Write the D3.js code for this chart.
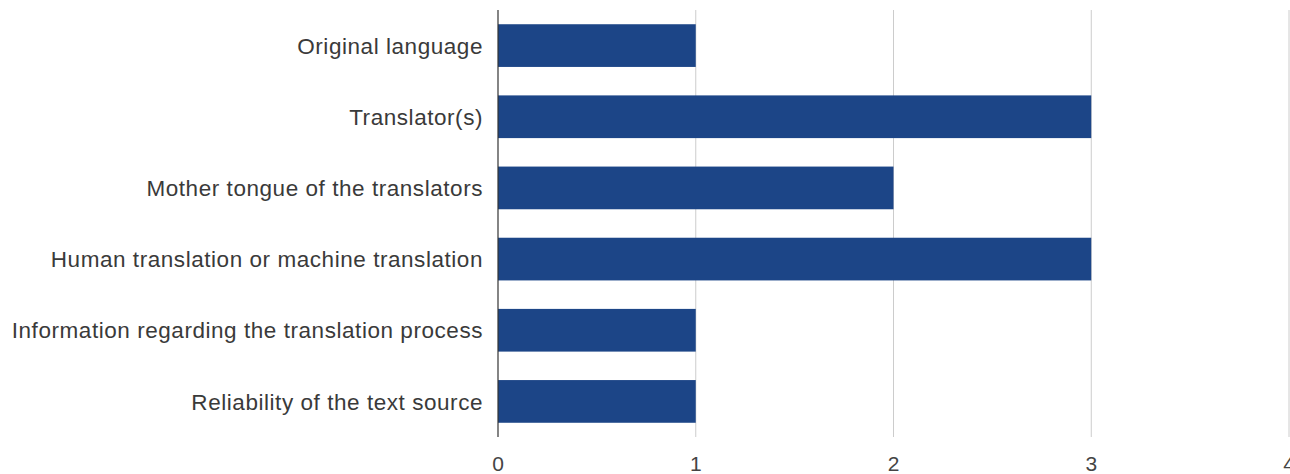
<!DOCTYPE html>
<html>
<head>
<meta charset="utf-8">
<script src="https://cdn.jsdelivr.net/npm/d3@7"></script>
<style>
  body { margin: 0; background: #fff; }
  svg text { font-family: "Liberation Sans", Arial, sans-serif; }
</style>
</head>
<body>
<div id="bar_chart"></div>
<script>
// data
var categories = ['Original language', 'Translator(s)', 'Mother tongue of the translators',
  'Human translation or machine translation', 'Information regarding the translation process',
  'Reliability of the text source'];
var counts = [1, 3, 2, 3, 1, 1];
var tickValues = [0, 1, 2, 3, 4];

//dimensions and margins
var margin = {top: 10, right: 1, bottom: 37, left: 498},
    width = 1290 - margin.left - margin.right,
    height = 474 - margin.top - margin.bottom;

var svg = d3.select('#bar_chart')
  .append('svg')
  .attr('width', 1290)
  .attr('height', 474)
  .append('g')
  .attr('transform', 'translate(' + margin.left + ',' + margin.top + ')');

//scales
var x = d3.scaleLinear()
  .domain([0, 4])
  .range([0, width]);

var y = d3.scaleBand()
  .domain(categories)
  .range([0, height])
  .paddingInner(0.4)
  .paddingOuter(0.2);

//gridlines
svg.selectAll('.grid')
  .data(tickValues.slice(1))
  .enter()
  .append('line')
  .attr('x1', function(d) { return x(d); })
  .attr('x2', function(d) { return x(d); })
  .attr('y1', 0)
  .attr('y2', height)
  .style('stroke', '#cccccc')
  .style('stroke-width', 1);

//bars
svg.selectAll('.bar')
  .data(counts)
  .enter()
  .append('rect')
  .attr('x', x(0))
  .attr('y', function(d, i) { return y(categories[i]); })
  .attr('width', function(d) { return x(d) - x(0); })
  .attr('height', y.bandwidth())
  .style('fill', '#1c4587');

//baseline
svg.append('line')
  .attr('x1', x(0))
  .attr('x2', x(0))
  .attr('y1', 0)
  .attr('y2', height)
  .style('stroke', '#333333')
  .style('stroke-width', 1.2);

//x tick labels
svg.selectAll('.xlabel')
  .data(tickValues)
  .enter()
  .append('text')
  .attr('x', function(d) { return x(d); })
  .attr('y', height + 34)
  .attr('text-anchor', 'middle')
  .style('font-size', '21px')
  .style('fill', '#444444')
  .text(function(d) { return d; });

//category labels
svg.selectAll('.ylabel')
  .data(categories)
  .enter()
  .append('text')
  .attr('x', -15)
  .attr('y', function(d) { return y(d) + y.bandwidth() / 2; })
  .attr('dy', '0.36em')
  .attr('text-anchor', 'end')
  .style('font-size', '22.5px')
  .style('letter-spacing', '0.55px')
  .style('fill', '#3a3a3a')
  .text(function(d) { return d; });
</script>
</body>
</html>
